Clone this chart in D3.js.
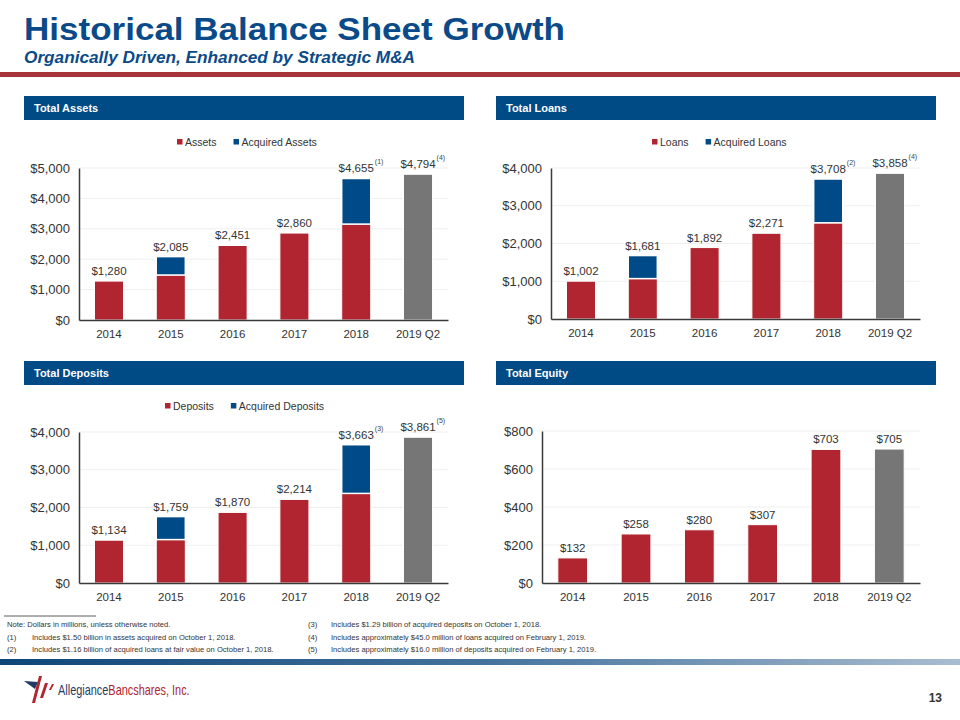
<!DOCTYPE html>
<html>
<head>
<meta charset="utf-8">
<script src="https://cdn.jsdelivr.net/npm/d3@7"></script>
<style>
  body { margin: 0; background: #fff; }
  svg { display: block; font-family: "Liberation Sans", Arial, sans-serif; }
</style>
</head>
<body>
<svg width="960" height="720"></svg>
<script>
// data (dollars in millions)
var years = ["2014", "2015", "2016", "2017", "2018", "2019 Q2"];

var assetsTotal = [1280, 2085, 2451, 2860, 4655, 4794];
var assetsAcquired = [0, 605, 0, 0, 1500, 0];
var assetsNotes = ["", "", "", "", "(1)", "(4)"];

var loansTotal = [1002, 1681, 1892, 2271, 3708, 3858];
var loansAcquired = [0, 611, 0, 0, 1160, 0];
var loansNotes = ["", "", "", "", "(2)", "(4)"];

var depositsTotal = [1134, 1759, 1870, 2214, 3663, 3861];
var depositsAcquired = [0, 609, 0, 0, 1290, 0];
var depositsNotes = ["", "", "", "", "(3)", "(5)"];

var equityTotal = [132, 258, 280, 307, 703, 705];

var assetsTicks = [0, 1000, 2000, 3000, 4000, 5000];
var loansTicks = [0, 1000, 2000, 3000, 4000];
var depositsTicks = [0, 1000, 2000, 3000, 4000];
var equityTicks = [0, 200, 400, 600, 800];

var footLeft = [
  ["", "Note:  Dollars in millions, unless otherwise noted."],
  ["(1)", "Includes $1.50  billion in assets acquired  on  October 1, 2018."],
  ["(2)", "Includes $1.16  billion of acquired  loans at fair value on October 1, 2018."]
];
var footRight = [
  ["(3)", "Includes $1.29  billion of acquired  deposits on October 1, 2018."],
  ["(4)", "Includes approximately $45.0  million of loans acquired  on February 1, 2019."],
  ["(5)", "Includes approximately $16.0  million of deposits acquired  on February  1, 2019."]
];

var RED = "#b0252f", BLUE = "#004a87", GRAY = "#767676", NAVY = "#0b4a89";
var fmt = d3.format("$,");

var svg = d3.select("svg");

// title block
svg.append("text").attr("x", 24).attr("y", 40)
  .attr("font-size", 32).attr("font-weight", "bold").attr("fill", NAVY)
  .attr("textLength", 541).attr("lengthAdjust", "spacingAndGlyphs")
  .text("Historical Balance Sheet Growth");
svg.append("text").attr("x", 24).attr("y", 63)
  .attr("font-size", 16.5).attr("font-weight", "bold").attr("font-style", "italic").attr("fill", NAVY)
  .attr("textLength", 391).attr("lengthAdjust", "spacingAndGlyphs")
  .text("Organically Driven, Enhanced by Strategic M&A");
svg.append("rect").attr("x", 0).attr("y", 72).attr("width", 960).attr("height", 5).attr("fill", "#a6323a");

function drawPanel(cfg) {
  var g = svg.append("g");

  // header strip
  g.append("rect").attr("x", cfg.hx).attr("y", cfg.hy).attr("width", 440).attr("height", 24).attr("fill", "#004a86");
  g.append("text").attr("x", cfg.hx + 10).attr("y", cfg.hy + 16)
    .attr("font-size", 11).attr("font-weight", "bold").attr("fill", "#fff").text(cfg.title);

  var x = d3.scaleBand().domain(years).range([cfg.x0, cfg.x1]).paddingInner(0.53).paddingOuter(0.25);
  var y = d3.scaleLinear().domain([0, cfg.max]).range([cfg.yZero, cfg.yTop]);

  // gridlines
  g.selectAll(".grid").data(cfg.ticks.slice(1)).enter().append("line")
    .attr("x1", cfg.x0).attr("x2", cfg.x1)
    .attr("y1", function(d){ return y(d); }).attr("y2", function(d){ return y(d); })
    .attr("stroke", "#efefef").attr("stroke-width", 1);

  // y axis
  var ya = g.append("g").attr("transform", "translate(" + cfg.x0 + ",0)")
    .call(d3.axisLeft(y).tickValues(cfg.ticks).tickFormat(fmt).tickSize(0).tickPadding(9));
  ya.select(".domain").attr("stroke", "#3a3a3a").attr("stroke-width", 1.5);
  ya.selectAll("text").attr("font-size", 13).attr("fill", "#333").attr("font-family", null);

  // bars
  var rows = years.map(function(yr, i) {
    var acq = cfg.acquired ? cfg.acquired[i] : 0;
    return { year: yr, total: cfg.total[i], base: cfg.total[i] - acq, acq: acq, note: cfg.notes ? cfg.notes[i] : "", last: i === years.length - 1 };
  });

  g.selectAll(".base").data(rows).enter().append("rect")
    .attr("x", function(d){ return x(d.year); })
    .attr("width", x.bandwidth())
    .attr("y", function(d){ return y(d.base); })
    .attr("height", function(d){ return y(0) - y(d.base); })
    .attr("fill", function(d){ return d.last ? GRAY : RED; })
    .attr("stroke", "#fff").attr("stroke-width", 1);

  g.selectAll(".acq").data(rows.filter(function(d){ return d.acq > 0; })).enter().append("rect")
    .attr("x", function(d){ return x(d.year); })
    .attr("width", x.bandwidth())
    .attr("y", function(d){ return y(d.total); })
    .attr("height", function(d){ return y(d.base) - y(d.total); })
    .attr("fill", BLUE)
    .attr("stroke", "#fff").attr("stroke-width", 1.5);

  // x axis
  var xa = g.append("g").attr("transform", "translate(0," + cfg.yZero + ")")
    .call(d3.axisBottom(x).tickSize(0).tickPadding(10));
  xa.select(".domain").attr("stroke", "#3a3a3a").attr("stroke-width", 1.5);
  xa.selectAll("text").attr("font-size", 11.5).attr("fill", "#333").attr("font-family", null);

  // value labels
  var lab = g.selectAll(".val").data(rows).enter().append("text")
    .attr("x", function(d){ return x(d.year) + x.bandwidth() / 2; })
    .attr("y", function(d){ return y(d.total) - 6; })
    .attr("text-anchor", "middle").attr("font-size", 11.5).attr("fill", "#333")
    .text(function(d){ return fmt(d.total); });

  lab.each(function(d) {
    if (!d.note) return;
    var w = this.getComputedTextLength();
    g.append("text")
      .attr("x", x(d.year) + x.bandwidth() / 2 + w / 2 + 1)
      .attr("y", y(d.total) - 14)
      .attr("font-size", 7).attr("fill", "#444").text(d.note);
  });

  // legend
  if (cfg.legend) {
    var lx = cfg.legendX;
    cfg.legend.forEach(function(item) {
      g.append("rect").attr("x", lx).attr("y", cfg.legendY - 3).attr("width", 5.5).attr("height", 5.5).attr("fill", item[1]);
      var t = g.append("text").attr("x", lx + 8).attr("y", cfg.legendY + 4)
        .attr("font-size", 10.5).attr("fill", "#333").text(item[0]);
      lx += 8 + t.node().getComputedTextLength() + 17;
    });
  }
}

drawPanel({ title: "Total Assets", hx: 24, hy: 96, x0: 79, x1: 448, yZero: 320, yTop: 168, max: 5000,
  ticks: assetsTicks, total: assetsTotal, acquired: assetsAcquired, notes: assetsNotes,
  legend: [["Assets", RED], ["Acquired Assets", BLUE]], legendX: 177, legendY: 142 });

drawPanel({ title: "Total Loans", hx: 496, hy: 96, x0: 551, x1: 920, yZero: 319, yTop: 168, max: 4000,
  ticks: loansTicks, total: loansTotal, acquired: loansAcquired, notes: loansNotes,
  legend: [["Loans", RED], ["Acquired Loans", BLUE]], legendX: 652, legendY: 142 });

drawPanel({ title: "Total Deposits", hx: 24, hy: 361, x0: 79, x1: 448, yZero: 583, yTop: 432, max: 4000,
  ticks: depositsTicks, total: depositsTotal, acquired: depositsAcquired, notes: depositsNotes,
  legend: [["Deposits", RED], ["Acquired Deposits", BLUE]], legendX: 165, legendY: 406 });

drawPanel({ title: "Total Equity", hx: 496, hy: 361, x0: 542, x1: 920, yZero: 583, yTop: 431, max: 800,
  ticks: equityTicks, total: equityTotal });

// footnotes
svg.append("line").attr("x1", 4).attr("x2", 96).attr("y1", 616).attr("y2", 616).attr("stroke", "#333").attr("stroke-width", 0.8);
function footCol(list, xNum, xText) {
  list.forEach(function(r, i) {
    var yy = 627 + i * 12.5;
    if (r[0]) {
      svg.append("text").attr("x", xNum).attr("y", yy).attr("font-size", 7.6).attr("fill", "#333").text(r[0]);
      svg.append("text").attr("x", xText).attr("y", yy).attr("font-size", 7.6).attr("fill", "#333").text(r[1]);
    } else {
      svg.append("text").attr("x", xNum).attr("y", yy).attr("font-size", 7.6).attr("fill", "#333").text(r[1]);
    }
  });
}
footCol(footLeft, 7, 32);
footCol(footRight, 308, 331);

// gradient band
var grad = svg.append("defs").append("linearGradient").attr("id", "band");
grad.append("stop").attr("offset", "0%").attr("stop-color", "#0e4679");
grad.append("stop").attr("offset", "50%").attr("stop-color", "#44729c");
grad.append("stop").attr("offset", "100%").attr("stop-color", "#a9bdd1");
svg.append("rect").attr("x", 0).attr("y", 659).attr("width", 960).attr("height", 6).attr("fill", "url(#band)");

// logo
var logo = svg.append("g");
logo.append("path").attr("d", "M24,681 L38,682 L35,689 Z").attr("fill", "#1f3a63");
logo.append("path").attr("d", "M39,676 L42,676 L35,703 L32,703 Z").attr("fill", RED);
logo.append("path").attr("d", "M45,683 L48,683 L43,698 L40,698 Z").attr("fill", RED);
logo.append("path").attr("d", "M52,684 L54,684 L51,690 L49,690 Z").attr("fill", RED);
var lt = logo.append("text").attr("transform", "translate(58,695) scale(0.78,1)").attr("font-size", 14);
lt.append("tspan").attr("fill", "#1f3a63").text("Allegiance");
lt.append("tspan").attr("fill", RED).text("Bancshares, Inc.");

svg.append("text").attr("x", 942).attr("y", 702).attr("text-anchor", "end")
  .attr("font-size", 12).attr("font-weight", "bold").attr("fill", "#333").text("13");
</script>
</body>
</html>
